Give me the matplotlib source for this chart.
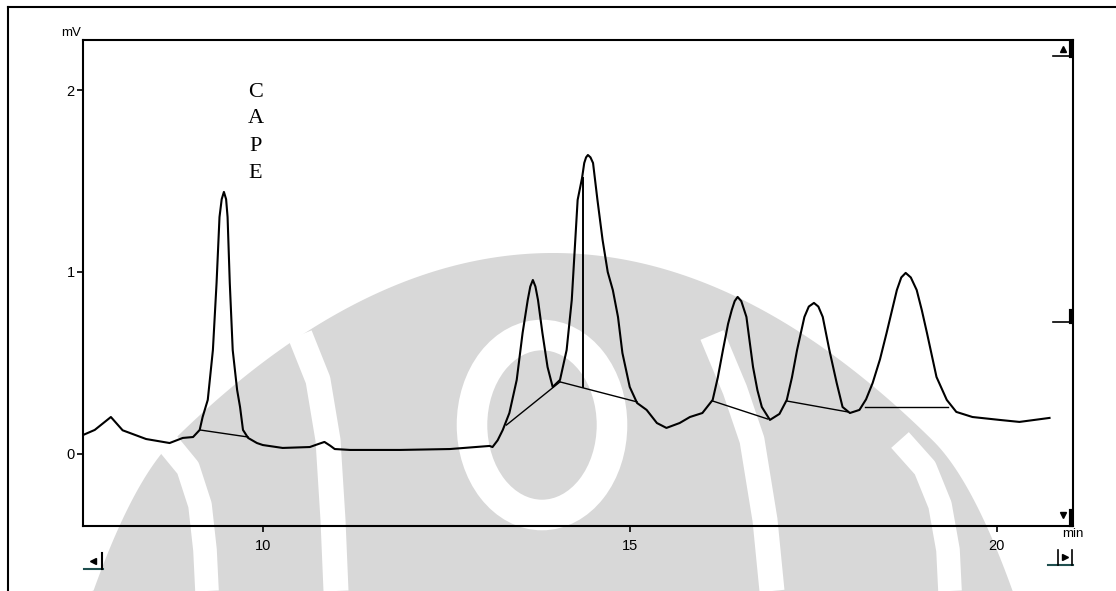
import matplotlib
matplotlib.use('Agg')
import matplotlib.pyplot as plt
from matplotlib.patches import Ellipse
import numpy as np

# chromatogram trace (time in min, signal in mV)
time_min = [7.55, 7.71, 7.93, 8.09, 8.41, 8.73, 8.91, 9.05, 9.14, 9.18,
            9.25, 9.32, 9.37, 9.39, 9.41, 9.44, 9.47, 9.50, 9.52, 9.55,
            9.59, 9.65, 9.69, 9.73, 9.80, 9.92, 10.0, 10.27, 10.64, 10.76,
            10.84, 10.92, 10.98, 11.19, 11.87, 12.55, 13.09, 13.13, 13.20, 13.27,
            13.36, 13.46, 13.54, 13.61, 13.645, 13.68, 13.715, 13.75, 13.81, 13.88,
            13.95, 14.05, 14.14, 14.21, 14.25, 14.29, 14.35, 14.38, 14.405, 14.43,
            14.465, 14.50, 14.56, 14.63, 14.70, 14.77, 14.84, 14.90, 15.00, 15.10,
            15.23, 15.37, 15.50, 15.68, 15.82, 15.99, 16.13, 16.20, 16.27, 16.34,
            16.39, 16.43, 16.47, 16.52, 16.59, 16.63, 16.68, 16.74, 16.80, 16.91,
            17.04, 17.14, 17.21, 17.28, 17.38, 17.44, 17.51, 17.57, 17.63, 17.72,
            17.82, 17.90, 18.00, 18.13, 18.22, 18.31, 18.41, 18.50, 18.58, 18.64,
            18.70, 18.76, 18.83, 18.91, 18.98, 19.05, 19.18, 19.32, 19.45, 19.67,
            20.04, 20.31, 20.72]
signal_mv = [0.104, 0.132, 0.203, 0.130, 0.082, 0.060, 0.088, 0.093, 0.132, 0.203,
             0.297, 0.571, 0.940, 1.121, 1.302, 1.400, 1.440, 1.400, 1.302, 0.940,
             0.571, 0.352, 0.258, 0.132, 0.088, 0.060, 0.049, 0.033, 0.038, 0.055,
             0.066, 0.045, 0.027, 0.022, 0.022, 0.027, 0.044, 0.038, 0.075, 0.132,
             0.225, 0.407, 0.665, 0.846, 0.920, 0.956, 0.920, 0.846, 0.665, 0.478,
             0.368, 0.407, 0.571, 0.846, 1.121, 1.396, 1.516, 1.599, 1.630, 1.643,
             1.630, 1.599, 1.396, 1.176, 1.000, 0.900, 0.753, 0.555, 0.368, 0.280,
             0.242, 0.170, 0.143, 0.170, 0.203, 0.225, 0.297, 0.420, 0.571, 0.715,
             0.791, 0.840, 0.863, 0.840, 0.753, 0.630, 0.478, 0.350, 0.258, 0.187,
             0.220, 0.297, 0.420, 0.571, 0.753, 0.810, 0.830, 0.810, 0.753, 0.571,
             0.390, 0.258, 0.225, 0.242, 0.300, 0.390, 0.520, 0.665, 0.800, 0.901,
             0.970, 0.995, 0.970, 0.901, 0.790, 0.665, 0.423, 0.297, 0.231, 0.203,
             0.187, 0.176, 0.198]

# integration baselines (start t, start mV, end t, end mV)
base_t0 = [9.14, 13.32, 14.05, 16.13, 17.14, 18.20]
base_v0 = [0.132, 0.159, 0.396, 0.291, 0.291, 0.258]
base_t1 = [9.80, 14.05, 15.10, 16.88, 17.97, 19.33]
base_v1 = [0.093, 0.396, 0.286, 0.192, 0.231, 0.258]

# peak split drop line
drop_t = 14.36
drop_v = [0.368, 1.516]

x_ticks = [10, 15, 20]
y_ticks = [0, 1, 2]

W, H = 1116, 591
fig = plt.figure(figsize=(W / 100, H / 100), dpi=100)

# background layer in pixel units: watermark, frame, window widgets
bg = fig.add_axes([0, 0, 1, 1])
bg.set_xlim(0, W)
bg.set_ylim(H, 0)
bg.axis('off')

gray = '#d8d8d8'
xs = np.linspace(0, W, 800)
dx = np.abs(xs - 553)
dome = 253 + 0.0013 * dx ** 2 + 0.01 * np.clip(dx - 380, 0, None) ** 2
dome = np.minimum(dome, H)
bg.fill_between(xs, dome, H, color=gray, lw=0)
# white bands of the logo
bg.plot([165, 188, 200, 205, 207], [440, 468, 505, 550, 591], color='white', lw=17, solid_capstyle='butt')
bg.plot([300, 318, 328, 333, 336], [335, 380, 440, 520, 591], color='white', lw=18, solid_capstyle='butt')
bg.plot([712, 735, 752, 765, 772], [335, 390, 440, 520, 591], color='white', lw=18, solid_capstyle='butt')
bg.plot([900, 925, 940, 948, 950], [440, 468, 505, 550, 591], color='white', lw=17, solid_capstyle='butt')
bg.add_patch(Ellipse((542, 425), 140, 180, fc=gray, ec='white', lw=22))

# outer frame of the scan
bg.plot([8, 8], [7, H], color='black', lw=1.5)
bg.plot([8, W], [7, 7], color='black', lw=1.5)

# scroll widgets at the right edge
for y0, y1 in [(43, 56), (311, 322)]:
    bg.plot([1053, 1072], [y1, y1], color='black', lw=1.2)
    bg.plot([1071, 1071], [y0, y1], color='black', lw=3)
bg.plot([1063], [49], marker='^', color='black', ms=4)
bg.plot([1063], [515], marker='v', color='black', ms=4)
bg.plot([1071, 1071], [511, 525], color='black', lw=3)
# bottom scroll buttons
bg.plot([84, 103], [569, 569], color='#1f4f4f', lw=1.5)
bg.plot([102, 102], [553, 569], color='black', lw=1.5)
bg.plot([93], [561], marker='<', color='black', ms=4)
bg.plot([1048, 1073], [565, 565], color='#1f4f4f', lw=1.5)
bg.plot([1058, 1058], [550, 565], color='black', lw=1.2)
bg.plot([1072, 1072], [550, 565], color='black', lw=1.2)
bg.plot([1065], [557], marker='>', color='black', ms=4)

# chromatogram axes
ax = fig.add_axes([83 / W, 1 - 526 / H, (1073 - 83) / W, (526 - 40) / H])
ax.set_facecolor('none')
ax.plot(time_min, signal_mv, color='black', lw=1.5)
for t0, v0, t1, v1 in zip(base_t0, base_v0, base_t1, base_v1):
    ax.plot([t0, t1], [v0, v1], color='black', lw=1.0)
ax.plot([drop_t, drop_t], drop_v, color='black', lw=1.4)

ax.set_xlim(7.55, 21.04)
ax.set_ylim(-0.396, 2.275)
ax.set_xticks(x_ticks)
ax.set_yticks(y_ticks)
ax.tick_params(axis='both', direction='out', length=4, width=1.2, labelsize=10.5, pad=2)
ax.tick_params(axis='x', pad=5)
for lab in ax.get_xticklabels() + ax.get_yticklabels():
    lab.set_family('Liberation Sans')
for s in ax.spines.values():
    s.set_linewidth(1.5)

ax.text(-0.002, 1.003, 'mV', transform=ax.transAxes, ha='right', va='bottom',
        fontsize=9.5, family='Liberation Sans')
ax.text(1.0, -0.005, 'min', transform=ax.transAxes, ha='center', va='top',
        fontsize=9.5, family='Liberation Sans')

# compound label stacked vertically above its peak
for letter, v in zip('CAPE', [1.989, 1.841, 1.692, 1.544]):
    ax.text(9.90, v, letter, ha='center', va='center', fontsize=16, family='Liberation Serif')

fig.savefig('out.png', dpi=100)
